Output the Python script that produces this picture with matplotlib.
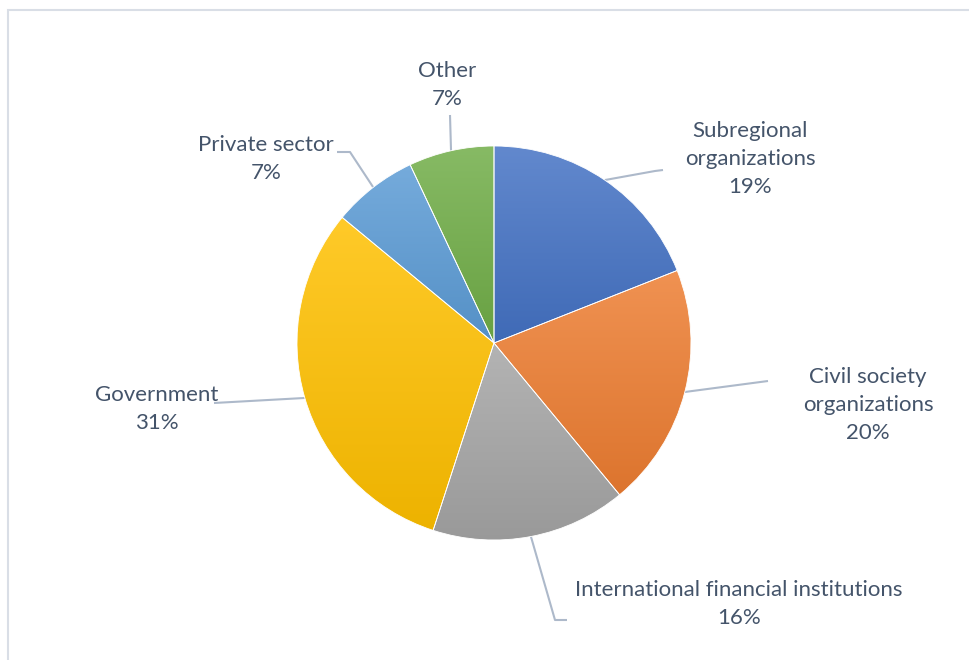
import numpy as np
import matplotlib.pyplot as plt
from matplotlib.colors import to_rgb
from matplotlib.patches import Rectangle

# data, clockwise from 12 o'clock
labels = ['Subregional\norganizations', 'Civil society\norganizations',
          'International financial institutions', 'Government',
          'Private sector', 'Other']
shares = [19, 20, 16, 31, 7, 7]
colors = ['#4472C4', '#ED7D31', '#A5A5A5', '#FFC000', '#5B9BD5', '#70AD47']

# label centres and leader-line elbows, in figure pixels (y measured from top)
label_pos = [(750, 159), (868, 405), (739, 604), (157, 409), (266, 159), (447, 85)]
elbows = [[(655, 171), (663, 170)], [(768, 381)], [(555, 620), (567, 620)],
          [(214, 403)], [(350, 152), (337, 152)], [(450, 115)]]

W, H = 970, 660
CX, CY, R = 494, H - 343, 197
TEXT = '#44546A'
LINE = '#ADB9CA'

plt.rcParams['font.family'] = ['Lato', 'DejaVu Sans']

fig = plt.figure(figsize=(W / 100, H / 100), dpi=100)
ax = fig.add_axes([0, 0, 1, 1])

# chart frame (only its top and left edges are inside the picture)
ax.add_patch(Rectangle((8, -10), W + 20, H, fill=False,
                       edgecolor='#D9DEE6', linewidth=1.5))

wedges, _ = ax.pie(shares, colors=colors, startangle=90, counterclock=False,
                   center=(CX, CY), radius=R, frame=True,
                   wedgeprops=dict(edgecolor='white', linewidth=0.6))


def mix(c, t, a):
    c, t = np.array(to_rgb(c)), np.array(to_rgb(t))
    return c * (1 - a) + t * a


# vertical gradient inside each slice, lighter at the top
for w, c in zip(wedges, colors):
    bb = w.get_path().get_extents(w.get_patch_transform())
    top, bot = mix(c, 'white', 0.16), mix(c, 'black', 0.07)
    t = np.linspace(0, 1, 256)[:, None]
    grad = (top[None, :] * (1 - t) + bot[None, :] * t)[:, None, :]
    im = ax.imshow(grad, extent=(bb.x0, bb.x1, bb.y0, bb.y1), origin='upper',
                   aspect='auto', zorder=w.get_zorder() + 0.1)
    im.set_clip_path(w)
    w.set_zorder(w.get_zorder() + 0.2)
    w.set_facecolor('none')

for w, lab, sh, (lx, ly), pts in zip(wedges, labels, shares, label_pos, elbows):
    mid = np.deg2rad((w.theta1 + w.theta2) / 2)
    sx, sy = CX + R * np.cos(mid), CY + R * np.sin(mid)
    xs = [sx] + [p[0] for p in pts]
    ys = [sy] + [H - p[1] for p in pts]
    ax.plot(xs, ys, color=LINE, linewidth=1.5, zorder=0.5, solid_capstyle='butt')
    ax.text(lx, H - ly, f'{lab}\n{sh}%', ha='center', va='center',
            fontsize=16, color=TEXT, linespacing=1.5)

ax.set_xlim(0, W)
ax.set_ylim(0, H)
ax.set_aspect('equal')
ax.axis('off')

fig.savefig('out.png', dpi=100, facecolor='white')
